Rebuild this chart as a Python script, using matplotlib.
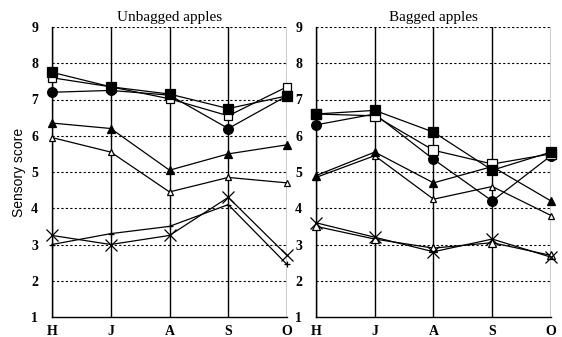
import matplotlib
matplotlib.use("Agg")
import matplotlib.pyplot as plt

months = ["H", "J", "A", "S", "O"]
yticks = [1, 2, 3, 4, 5, 6, 7, 8, 9]

# Unbagged apples
unb_filled_square = [7.75, 7.35, 7.15, 6.75, 7.1]
unb_open_square = [7.6, 7.35, 7.02, 6.55, 7.35]
unb_filled_circle = [7.2, 7.25, 7.12, 6.2, 7.1]
unb_filled_triangle = [6.35, 6.2, 5.05, 5.5, 5.75]
unb_open_triangle = [5.95, 5.55, 4.45, 4.85, 4.7]
unb_cross = [3.25, 3.0, 3.25, 4.3, 2.7]
unb_plus = [3.0, 3.3, 3.5, 4.1, 2.45]

# Bagged apples
bag_filled_square = [6.6, 6.7, 6.1, 5.05, 5.55]
bag_open_square = [6.6, 6.55, 5.6, 5.22, 5.5]
bag_filled_circle = [6.3, 6.6, 5.35, 4.2, 5.45]
bag_filled_triangle = [4.9, 5.55, 4.7, 5.15, 4.2]
bag_open_triangle = [4.85, 5.45, 4.25, 4.6, 3.8]
bag_cross = [3.6, 3.2, 2.8, 3.15, 2.65]
bag_open_triangle2 = [3.5, 3.15, 2.9, 3.05, 2.7]

plt.rcParams['font.family'] = ['Liberation Serif', 'DejaVu Serif']

fig = plt.figure(figsize=(5.62, 3.37), dpi=100)
axL = fig.add_axes([52/562, 1-317/337, 235/562, 290/337])
axR = fig.add_axes([316/562, 1-317/337, 235/562, 290/337])

x = list(range(len(months)))

def style(ax, title):
    ax.set_xlim(0, 4)
    ax.set_ylim(1, 9)
    ax.set_yticks(yticks)
    ax.set_xticks(x)
    ax.set_xticklabels(months, fontsize=10, fontweight='bold')
    ax.set_yticklabels([str(v) for v in yticks], fontsize=10, fontweight='bold')
    ax.tick_params(length=0, pad=10)
    ax.tick_params(axis='x', pad=6)
    for s in ['top', 'right']:
        ax.spines[s].set_visible(False)
    for s in ['left', 'bottom']:
        ax.spines[s].set_linewidth(1.0)
    for v in yticks[1:]:
        ax.axhline(v, color='black', lw=0.8, ls=(0, (2, 2)), zorder=1)
    for xi in x:
        ax.axvline(xi, color='black', lw=1.0, zorder=1)
    ax.set_title(title, fontsize=11, pad=4)

def plot(ax, vals, marker, filled, ms):
    ax.plot(x, vals, color='black', lw=0.9, marker=marker, ms=ms,
            mfc='black' if filled else 'white', mec='black', mew=0.9,
            clip_on=False, zorder=3)

style(axL, "Unbagged apples")
style(axR, "Bagged apples")
axL.set_ylabel("Sensory score", fontsize=10, labelpad=4,
               family=['Liberation Sans', 'DejaVu Sans'])

plot(axL, unb_open_triangle, '^', False, 5)
plot(axL, unb_filled_triangle, '^', True, 6)
plot(axL, unb_plus, '+', False, 5)
plot(axL, unb_cross, 'x', False, 8)
plot(axL, unb_filled_circle, 'o', True, 7)
plot(axL, unb_open_square, 's', False, 6)
plot(axL, unb_filled_square, 's', True, 7)

plot(axR, bag_open_triangle2, '^', False, 6)
plot(axR, bag_cross, 'x', False, 8)
plot(axR, bag_open_triangle, '^', False, 5)
plot(axR, bag_filled_triangle, '^', True, 6)
plot(axR, bag_filled_circle, 'o', True, 7)
plot(axR, bag_open_square, 's', False, 7)
plot(axR, bag_filled_square, 's', True, 7)

fig.savefig("out.png", dpi=100)
